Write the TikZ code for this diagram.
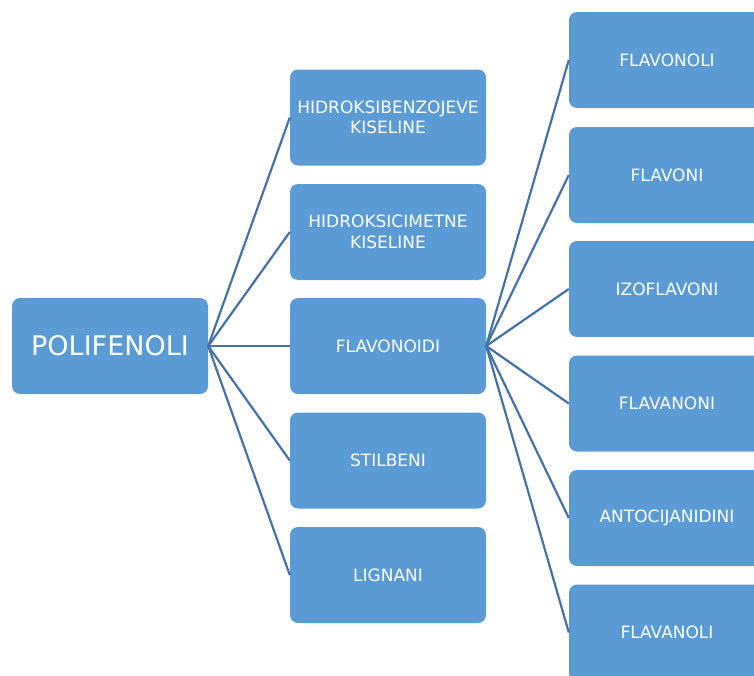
\documentclass[tikz,border=0pt]{standalone}
\usepackage{fontspec}
\setmainfont{DejaVu Sans}
\definecolor{boxblue}{RGB}{91,155,213}
\definecolor{lineblue}{RGB}{68,114,166}
\newcommand{\midfont}{\fontsize{17}{20.5}\selectfont}
\newcommand{\rootfont}{\fontsize{27}{32}\selectfont}

\begin{document}
\begin{tikzpicture}[x=1pt, y=-1pt]
    \tikzstyle{boxed}=[fill=boxblue, text=white, minimum width=196pt,
      minimum height=96pt, rounded corners=8pt, align=center, inner sep=2pt]
    \tikzstyle{link}=[draw=lineblue, line width=2.2pt]
    \useasboundingbox (0,0) rectangle (754,675);
    \draw (110,346) node[boxed, font=\rootfont] (poli) {POLIFENOLI};
    % middle column
    \draw (388,117.5) node[boxed, font=\midfont] (hbk) {HIDROKSIBENZOJEVE\\KISELINE};
    \draw (388,232) node[boxed, font=\midfont] (hck) {HIDROKSICIMETNE\\KISELINE};
    \draw (388,346) node[boxed, font=\midfont] (flavd) {FLAVONOIDI};
    \draw (388,460.5) node[boxed, font=\midfont] (stil) {STILBENI};
    \draw (388,575) node[boxed, font=\midfont] (lign) {LIGNANI};
    % right column
    \draw (667,60) node[boxed, font=\midfont] (fnol) {FLAVONOLI};
    \draw (667,175) node[boxed, font=\midfont] (fon) {FLAVONI};
    \draw (667,289) node[boxed, font=\midfont] (izo) {IZOFLAVONI};
    \draw (667,403.5) node[boxed, font=\midfont] (fan) {FLAVANONI};
    \draw (667,518) node[boxed, font=\midfont] (anto) {ANTOCIJANIDINI};
    \draw (667,632.5) node[boxed, font=\midfont] (fanol) {FLAVANOLI};
    \foreach \n in {hbk,hck,flavd,stil,lign}
      \draw[link] (poli.east) -- (\n.west);
    \foreach \n in {fnol,fon,izo,fan,anto,fanol}
      \draw[link] (flavd.east) -- (\n.west);
  \end{tikzpicture}
\end{document}
